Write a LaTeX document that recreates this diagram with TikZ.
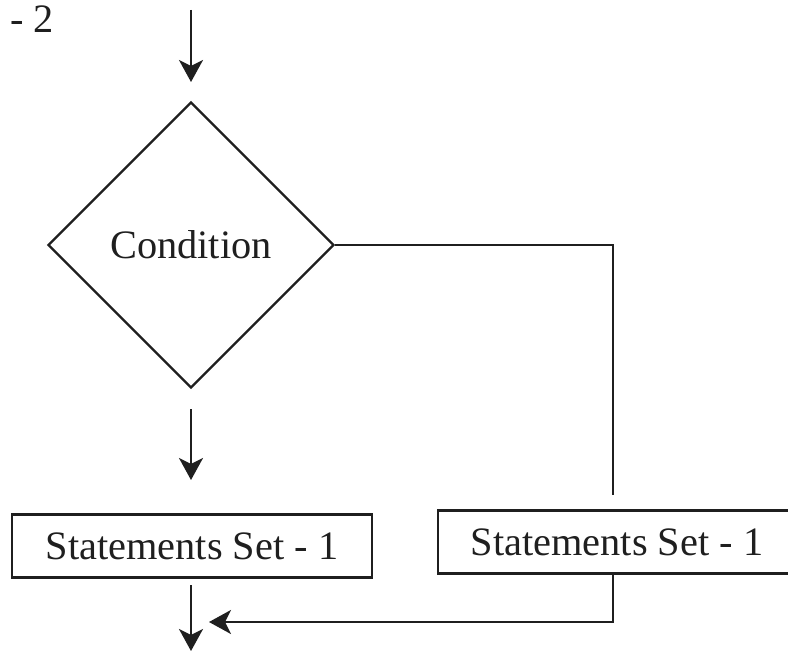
\documentclass[tikz,border=0pt]{standalone}
\usepackage{fontspec}
\setmainfont{Liberation Serif}
\usetikzlibrary{shapes.geometric,arrows.meta}
\begin{document}
\begin{tikzpicture}[x=1bp,y=-1bp,
  every node/.style={font=\fontsize{40.5}{46}\selectfont, text=black!88},
  line/.style={draw=black!88, line width=2.4bp},
  arr/.style={line, -{Stealth[length=22bp,width=24bp,inset=6bp]}},
  decision/.style={diamond, line, minimum width=286bp, minimum height=286bp, inner sep=0pt, aspect=1},
  stmt/.style={rectangle, line, minimum height=63bp, inner sep=0pt}]
\useasboundingbox (0,0) rectangle (788,651);
\clip (0,0) rectangle (788,651);
\node[anchor=base east, inner sep=0pt] (s2) at (54,33) {Statements Set - 2};
\node[decision] (cond) at (191,245) {Condition};
\node[stmt, minimum width=360bp] (b1) at (192,546) {Statements Set - 1};
\node[stmt, minimum width=358bp] (b2) at (617,542) {Statements Set - 1};
\coordinate (a1s) at (191,10);
\coordinate (a1e) at (191,82);
\coordinate (a2s) at (191,409);
\coordinate (a2e) at (191,480);
\coordinate (a3s) at (191,585);
\coordinate (a3e) at (191,651);
\coordinate (rc) at (613,245);
\coordinate (rend) at (613,495);
\coordinate (jn) at (613,622);
\coordinate (jt) at (209,622);
\draw[arr] (a1s) -- (a1e);
\draw[arr] (a2s) -- (a2e);
\draw[arr] (a3s) -- (a3e);
\draw[line] (cond.east) -- (rc) -- (rend);
\draw[arr] (jn |- b2.south) -- (jn) -- (jt);
\end{tikzpicture}
\end{document}
